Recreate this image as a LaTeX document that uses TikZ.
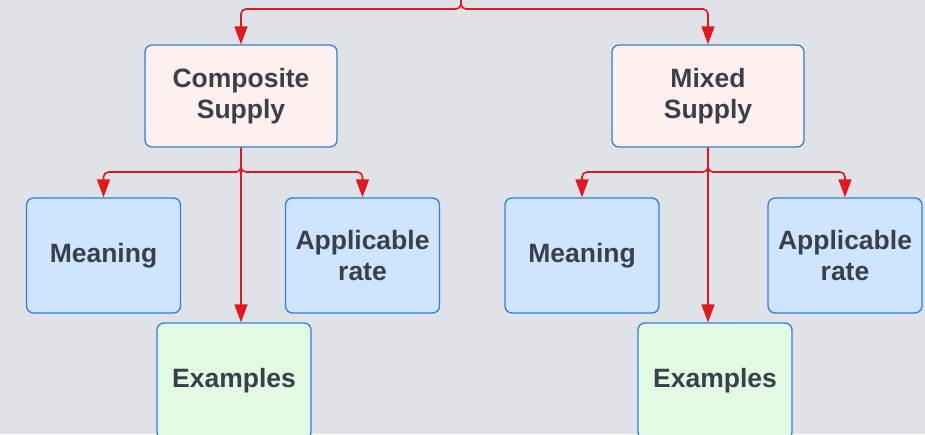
\documentclass[tikz,border=0pt]{standalone}
\usepackage{fontspec}
\setmainfont{Liberation Sans}
\usetikzlibrary{arrows.meta}
\definecolor{bg}{RGB}{223,226,230}
\definecolor{edge}{RGB}{45,127,232}
\definecolor{pinkfill}{RGB}{255,240,240}
\definecolor{bluefill}{RGB}{207,228,255}
\definecolor{greenfill}{RGB}{226,250,226}
\definecolor{ink}{RGB}{58,64,74}
\definecolor{link}{RGB}{228,24,28}
\tikzset{
  box/.style={draw=edge, line width=1.3pt, rounded corners=7pt, align=center,
    text=ink, font=\fontsize{26.5}{31}\selectfont\bfseries, inner sep=0pt},
  topbox/.style={box, fill=pinkfill, minimum width=192pt, minimum height=102pt},
  infobox/.style={box, fill=bluefill, minimum width=154pt, minimum height=115pt},
  examplebox/.style={box, fill=greenfill, minimum width=154pt, minimum height=116pt},
  flow/.style={draw=link, line width=1.6pt, rounded corners=5pt,
    -{Triangle[length=18pt, width=13pt]}},
}
\begin{document}
\begin{tikzpicture}[x=1pt, y=-1pt]
  \fill[bg] (0,0) rectangle (925,434);
  \useasboundingbox (0,0) rectangle (925,434);

  \coordinate (root) at (461,-5);

  % upper level
  \node[topbox] (cs) at (241,96) {Composite\\Supply};
  \node[topbox] (ms) at (708,96) {Mixed\\Supply};

  % lower level, composite side
  \node[infobox] (m1) at (103.5,255.5) {Meaning};
  \node[infobox] (a1) at (362.5,255.5) {Applicable\\rate};
  \node[examplebox] (e1) at (234,381) {Examples};

  % lower level, mixed side
  \node[infobox] (m2) at (582,255.5) {Meaning};
  \node[infobox] (a2) at (845,255.5) {Applicable\\rate};
  \node[examplebox] (e2) at (715,381) {Examples};

  % connectors from the top
  \draw[flow] (root) -- (461,9) -- (cs.north |- 0,9) -- (cs.north);
  \draw[flow] (root) -- (461,9) -- (ms.north |- 0,9) -- (ms.north);

  % composite supply branches
  \draw[flow] (cs.south) -- (cs.south |- 0,172) -- (m1.north |- 0,172) -- (m1.north);
  \draw[flow] (cs.south) -- (cs.south |- 0,172) -- (a1.north |- 0,172) -- (a1.north);
  \draw[flow] (cs.south) -- (cs.south |- e1.north);

  % mixed supply branches
  \draw[flow] (ms.south) -- (ms.south |- 0,172) -- (m2.north |- 0,172) -- (m2.north);
  \draw[flow] (ms.south) -- (ms.south |- 0,172) -- (a2.north |- 0,172) -- (a2.north);
  \draw[flow] (ms.south) -- (ms.south |- e2.north);
\end{tikzpicture}
\end{document}
